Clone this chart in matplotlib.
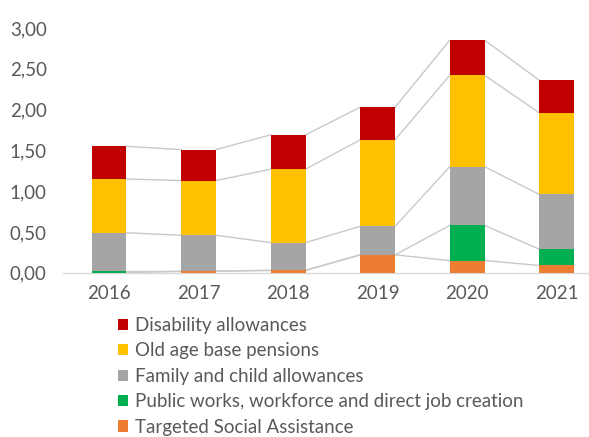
import matplotlib.pyplot as plt
import numpy as np

plt.rcParams['font.family'] = ['Lato', 'DejaVu Sans']

# ================= data =================
years = ['2016', '2017', '2018', '2019', '2020', '2021']

targeted_social = [0.00, 0.02, 0.03, 0.22, 0.15, 0.09]
public_works = [0.02, 0.00, 0.00, 0.00, 0.43, 0.20]
family_child = [0.47, 0.44, 0.34, 0.35, 0.72, 0.67]
old_age = [0.66, 0.67, 0.90, 1.06, 1.12, 1.00]
disability = [0.40, 0.38, 0.42, 0.40, 0.43, 0.40]

series_names = ['Targeted Social Assistance',
                'Public works, workforce and direct job creation',
                'Family and child allowances',
                'Old age base pensions',
                'Disability allowances']
series_values = [targeted_social, public_works, family_child, old_age, disability]
series_colors = ['#ED7D31', '#00B050', '#A5A5A5', '#FFC000', '#C00000']

text_color = '#595959'
bar_w = 0.39
fs = 13.5

fig = plt.figure(figsize=(5.89, 4.37), dpi=100)
# axes run past the right edge of the figure
ax = fig.add_axes([63.3 / 589, 1 - 272.8 / 437, 1 - 63.3 / 589, (272.8 - 28) / 437])

x = np.arange(len(years))
bottom = np.zeros(len(years))
handles = []
for name, vals, col in zip(series_names, series_values, series_colors):
    vals = np.array(vals)
    b = ax.bar(x, vals, bar_w, bottom=bottom, color=col, label=name, zorder=3)
    handles.append(b)
    top = bottom + vals
    # series lines between neighbouring bars
    for i in range(len(years) - 1):
        ax.plot([x[i] + bar_w / 2, x[i + 1] - bar_w / 2], [top[i], top[i + 1]],
                color='#C9C9C9', lw=1.0, zorder=2)
    bottom = top

ax.set_xlim(-0.51, 5.36)
ax.set_ylim(0, 3)
ax.set_yticks(np.arange(0, 3.01, 0.5))
ax.set_yticklabels([f'{v:.2f}'.replace('.', ',') for v in np.arange(0, 3.01, 0.5)])
ax.set_xticks(x)
ax.set_xticklabels(years)

for s in ['top', 'right', 'left']:
    ax.spines[s].set_visible(False)
ax.spines['bottom'].set_color('#D9D9D9')
ax.spines['bottom'].set_linewidth(1.0)
ax.tick_params(axis='both', length=0, labelsize=fs, colors=text_color)
ax.tick_params(axis='y', pad=12)
ax.tick_params(axis='x', pad=9)

leg = fig.legend(handles[::-1], series_names[::-1], loc='upper left',
                 bbox_to_anchor=(118 / 589, 1 - 317 / 437), frameon=False,
                 fontsize=fs, handlelength=0.55, handleheight=0.55,
                 handletextpad=0.35, labelspacing=0.45, borderaxespad=0,
                 borderpad=0)
for t in leg.get_texts():
    t.set_color(text_color)

fig.savefig('out.png', dpi=100)
